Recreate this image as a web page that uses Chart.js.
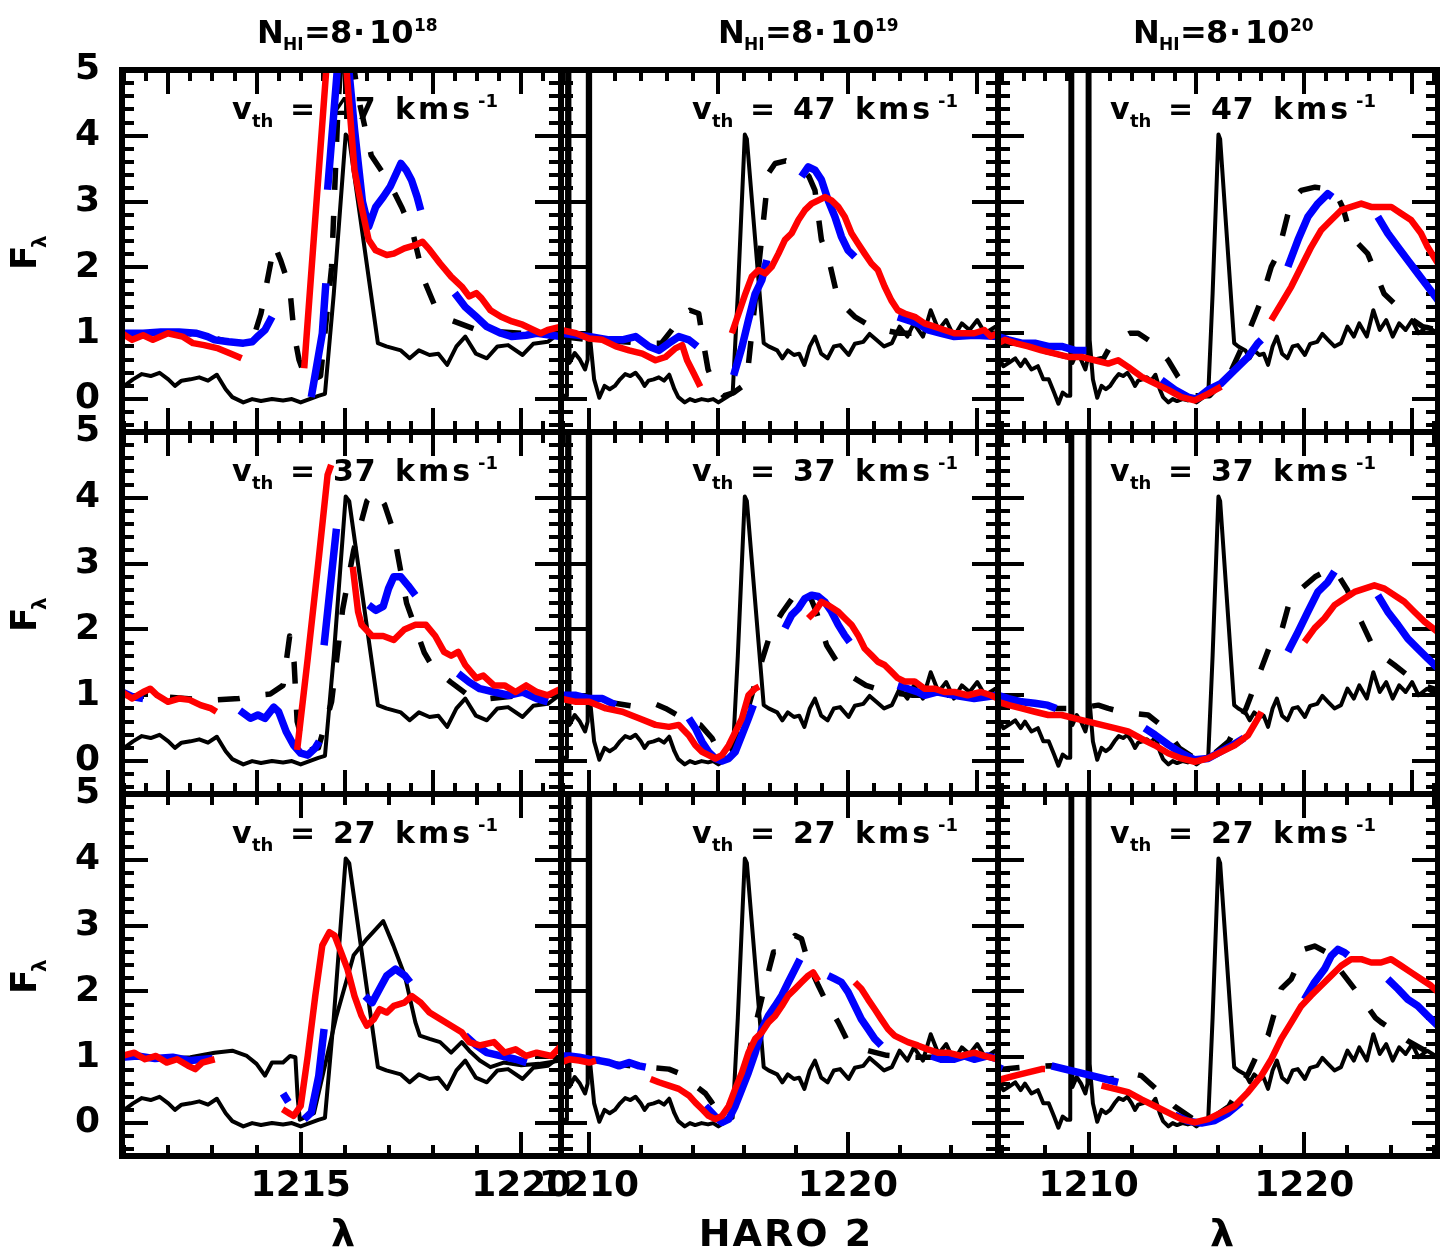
<!DOCTYPE html>
<html>
<head>
<meta charset="utf-8">
<title>HARO 2 Ly-alpha profiles</title>
<script src="https://cdn.jsdelivr.net/npm/chart.js@4.4.1/dist/chart.umd.min.js"></script>
<style>
  html, body { margin: 0; padding: 0; background: #fff; }
  #wrap { position: relative; width: 1440px; height: 1248px; overflow: hidden; background: #fff; }
  #wrap canvas { position: absolute; left: 0; top: 0; pointer-events: none; }
</style>
</head>
<body>
<div id="wrap"></div>
<script>
// ---------------- data ----------------
// column: HI column density exponent (N_HI = 8·10^x), row: thermal speed (km/s)
const columnExponent = ['18', '19', '20'];
const rowThermalSpeed = ['47', '37', '27'];
// wavelength window of each column (Å) and flux window
const columnWave = [[1210.95, 1220.9], [1208.92, 1225.8], [1205.8, 1226.2]];
const fluxRange = [-0.5, 5];
const fluxTickLabels = [0, 1, 2, 3, 4, 5];
const waveTickLabels = [[1215, 1220], [1210, 1220], [1210, 1220]];

// observed HARO 2 spectrum [λ, F]
const haro2 = [[1205.8,0.65],[1206.05,0.5],[1206.3,0.55],[1206.6,0.62],[1206.85,0.5],[1207.05,0.6],[1207.35,0.45],[1207.65,0.5],[1207.9,0.3],[1208.15,0.3],[1208.4,0.1],[1208.6,-0.07],[1208.8,0.1],[1209.0,0.05],[1209.15,0.05],[1209.2,40],[1209.25,0.55],[1209.45,0.7],[1209.65,0.6],[1209.85,0.45],[1209.95,0.6],[1210.0,40],[1210.05,0.9],[1210.2,0.3],[1210.4,0.02],[1210.6,0.2],[1210.8,0.15],[1211.0,0.2],[1211.2,0.3],[1211.4,0.38],[1211.6,0.35],[1211.8,0.4],[1212.0,0.3],[1212.15,0.2],[1212.3,0.28],[1212.5,0.3],[1212.7,0.33],[1212.9,0.28],[1213.1,0.37],[1213.3,0.15],[1213.45,0.03],[1213.7,-0.05],[1213.9,0.0],[1214.1,-0.03],[1214.35,0.0],[1214.6,-0.02],[1214.8,0.0],[1215.0,-0.05],[1215.2,0.0],[1215.4,0.05],[1215.55,0.08],[1215.75,1.6],[1216.02,4.02],[1216.1,3.95],[1216.75,0.85],[1216.94,0.8],[1217.27,0.74],[1217.47,0.62],[1217.68,0.74],[1217.92,0.67],[1218.12,0.69],[1218.32,0.52],[1218.53,0.8],[1218.73,0.95],[1218.97,0.69],[1219.22,0.62],[1219.46,0.8],[1219.7,0.82],[1220.03,0.67],[1220.27,0.84],[1220.6,0.87],[1220.84,0.99],[1221.1,0.9],[1221.4,0.8],[1221.7,0.85],[1222.0,1.1],[1222.3,0.95],[1222.55,1.15],[1222.9,0.95],[1223.2,1.35],[1223.5,1.05],[1223.8,1.2],[1224.1,0.95],[1224.4,1.15],[1224.7,1.05],[1225.0,1.2],[1225.3,1.0],[1225.7,1.1],[1226.2,1.0]];

// model profiles [λ, F]; null marks a break in the drawn curve
const r1c1Dashed = [[1210.95,1.0],[1211.43,1.0],[1212.24,1.02],[1212.89,0.95],[1213.37,0.87],[1213.7,0.85],[1213.9,0.87],[1214.1,1.3],[1214.4,2.35],[1214.55,2.1],[1214.75,1.7],[1214.85,1.0],[1214.96,0.6],[1215.15,0.25],[1215.45,0.35],[1215.7,2.0],[1215.85,4.5],[1216.0,6.0],[1216.3,4.6],[1216.6,3.7],[1217.0,3.3],[1217.3,2.9],[1217.55,2.5],[1217.8,1.8],[1218.05,1.4],[1218.4,1.2],[1219.0,1.05],[1220,1.0],[1220.9,1.0]];
const r1c1Blue = [[1210.95,1.0],[1211.43,1.0],[1211.83,1.02],[1212.24,1.02],[1212.64,1.0],[1212.89,0.95],[1213.05,0.9],[1213.37,0.87],[1213.7,0.85],[1213.9,0.87],[1214.02,0.95],[1214.19,1.05],[1214.35,1.25],null,[1215.24,0.03],[1215.49,1.0],[1215.57,1.76],null,[1215.61,3.18],[1215.95,6.0],[1216.22,4.1],[1216.4,3.0],[1216.54,2.62],[1216.7,2.92],[1216.87,3.07],[1217.03,3.23],[1217.27,3.58],[1217.39,3.48],[1217.51,3.33],[1217.64,3.07],[1217.72,2.87],null,[1218.49,1.61],[1218.73,1.4],[1218.98,1.25],[1219.22,1.1],[1219.54,1.0],[1219.79,0.95],[1220.11,0.97],[1220.35,1.0],[1220.9,0.95]];
const r1c1Red = [[1210.95,1.0],[1211.18,0.9],[1211.43,0.97],[1211.65,0.9],[1211.99,1.0],[1212.32,0.95],[1212.56,0.85],[1212.81,0.82],[1213.13,0.77],[1213.42,0.69],[1213.66,0.62],null,[1215.08,0.47],[1215.8,7.0],[1216.22,3.48],[1216.38,2.92],[1216.54,2.42],[1216.7,2.26],[1216.95,2.19],[1217.11,2.21],[1217.35,2.29],[1217.6,2.34],[1217.76,2.39],[1217.92,2.27],[1218.16,2.06],[1218.41,1.86],[1218.65,1.71],[1218.82,1.56],[1218.98,1.61],[1219.1,1.53],[1219.3,1.35],[1219.54,1.25],[1219.79,1.18],[1220.03,1.13],[1220.28,1.05],[1220.44,1.0],[1220.6,1.05],[1220.9,1.1]];

const r1c2Dashed = [[1208.92,0.95],[1210,0.9],[1211,0.88],[1212,0.85],[1212.8,0.85],[1213.3,1.1],[1213.6,1.28],[1213.9,1.35],[1214.24,1.3],[1214.4,0.9],[1214.6,0.45],[1214.8,0.25],[1215.2,0.05],[1215.6,0.1],[1215.95,0.2],[1216.1,0.3],[1216.5,1.8],[1216.93,3.43],[1217.19,3.58],[1217.6,3.62],[1218.1,3.55],[1218.5,3.38],[1218.73,3.17],[1218.98,2.42],[1219.24,2.16],[1219.63,1.5],[1220.27,1.25],[1221.0,1.08],[1222,1.0],[1225.8,1.0]];
const r1c2Blue = [[1208.92,1.0],[1210.0,0.95],[1210.78,0.9],[1211.29,0.9],[1211.8,0.95],[1212.32,0.8],[1212.7,0.74],[1213.09,0.85],[1213.47,0.95],[1213.86,0.9],[1214.18,0.8],null,[1215.59,0.36],[1215.91,0.79],[1216.16,1.2],[1216.42,1.6],[1216.68,1.81],[1216.87,2.11],null,[1218.21,3.38],[1218.47,3.53],[1218.73,3.48],[1218.98,3.33],[1219.24,3.02],[1219.5,2.77],[1219.75,2.47],[1220.01,2.26],[1220.27,2.16],null,[1221.93,1.25],[1222.32,1.2],[1222.7,1.15],[1223.09,1.05],[1223.6,1.0],[1224.11,0.95],[1224.9,0.97],[1225.8,0.95]];
const r1c2Red = [[1208.92,1.05],[1209.5,1.0],[1210.0,0.92],[1210.52,0.9],[1211.04,0.8],[1211.55,0.74],[1212.06,0.69],[1212.57,0.59],[1212.96,0.64],[1213.34,0.77],[1213.6,0.82],[1213.79,0.59],[1214.05,0.39],[1214.3,0.19],null,[1215.52,1.0],[1215.78,1.3],[1216.04,1.6],[1216.29,1.86],[1216.55,1.96],[1216.81,1.91],[1217.06,2.01],[1217.32,2.21],[1217.57,2.42],[1217.83,2.52],[1218.09,2.72],[1218.34,2.87],[1218.6,2.97],[1218.86,3.02],[1219.11,3.07],[1219.37,3.02],[1219.63,2.92],[1219.88,2.77],[1220.14,2.52],[1220.4,2.36],[1220.65,2.21],[1220.91,2.06],[1221.16,1.96],[1221.42,1.71],[1221.68,1.5],[1221.93,1.35],[1222.19,1.3],[1222.58,1.25],[1222.96,1.15],[1223.35,1.1],[1223.73,1.05],[1224.11,1.0],[1224.5,1.0],[1224.88,1.0],[1225.27,1.05],[1225.52,0.95],[1225.8,1.0]];

const r1c3Dashed = [[1205.8,0.85],[1206.59,0.85],[1207.2,0.8],[1207.82,0.74],[1208.44,0.69],[1209.06,0.64],[1209.67,0.64],[1210.29,0.59],[1210.7,0.62],[1211.0,0.8],[1211.37,0.9],[1211.9,1.0],[1212.3,1.0],[1213.0,0.85],[1213.69,0.59],[1214.15,0.34],[1214.9,0.05],[1215.6,0.05],[1216.5,0.35],[1217.2,0.85],[1217.7,1.25],[1218.0,1.5],[1218.47,2.01],[1218.78,2.21],[1219.4,3.02],[1219.86,3.17],[1220.5,3.22],[1220.94,3.2],[1221.4,3.17],[1221.8,2.9],[1222.17,2.47],[1222.94,2.21],[1223.7,1.6],[1224.18,1.45],[1224.8,1.25],[1225.5,1.1],[1226.2,1.05]];
const r1c3Blue = [[1205.8,0.95],[1206.28,0.9],[1206.9,0.85],[1207.51,0.85],[1208.13,0.8],[1208.75,0.8],[1209.36,0.74],[1209.9,0.74],null,[1213.38,0.29],[1214.0,0.14],[1214.61,0.03],[1215.0,0.0],[1215.54,0.14],[1216.15,0.24],[1216.77,0.44],[1217.39,0.64],[1217.85,0.85],[1218.01,0.9],null,[1219.24,2.01],[1219.71,2.42],[1220.17,2.77],[1220.63,2.97],[1221.09,3.12],[1221.3,3.07],null,[1223.41,2.77],[1223.87,2.52],[1224.34,2.31],[1224.8,2.11],[1225.26,1.91],[1225.72,1.71],[1226.2,1.5]];
const r1c3Red = [[1205.8,0.85],[1206.12,0.9],[1206.59,0.85],[1207.2,0.8],[1207.82,0.74],[1208.44,0.69],[1209.06,0.64],[1209.67,0.64],[1210.29,0.59],[1210.91,0.54],[1211.37,0.59],[1211.83,0.49],[1212.45,0.34],[1213.07,0.24],[1213.69,0.14],[1214.3,0.03],[1214.92,-0.02],[1215.54,0.08],[1216.15,0.19],null,[1218.47,1.2],[1218.93,1.45],[1219.4,1.71],[1219.86,2.01],[1220.32,2.31],[1220.79,2.57],[1221.25,2.72],[1221.71,2.87],[1222.17,2.92],[1222.64,2.97],[1223.1,2.92],[1223.56,2.92],[1224.03,2.92],[1224.49,2.82],[1224.95,2.72],[1225.41,2.52],[1225.72,2.31],[1226.2,2.06]];

const r2c1Dashed = [[1210.95,1.0],[1212,0.97],[1212.85,0.93],[1213.1,0.93],[1213.6,0.95],[1214.0,1.0],[1214.31,1.02],[1214.6,1.15],[1214.75,1.9],[1214.85,1.5],[1214.92,0.6],[1215.1,0.15],[1215.4,0.2],[1215.7,0.9],[1215.95,2.3],[1216.2,3.2],[1216.5,3.95],[1216.7,4.1],[1216.9,3.9],[1217.1,3.5],[1217.4,2.4],[1217.8,1.65],[1218.0,1.42],[1218.4,1.2],[1218.8,1.0],[1219.3,0.95],[1220,1.0],[1220.9,1.0]];
const r2c1Blue = [[1210.95,1.05],[1211.18,0.98],[1211.43,0.95],null,[1213.62,0.77],[1213.86,0.65],[1214.03,0.7],[1214.19,0.65],[1214.39,0.82],[1214.5,0.75],[1214.67,0.45],[1214.84,0.24],[1215.0,0.12],[1215.16,0.09],[1215.33,0.2],[1215.42,0.3],null,[1215.53,1.76],[1215.81,3.53],null,[1216.54,2.37],[1216.7,2.29],[1216.87,2.35],[1216.99,2.62],[1217.11,2.8],[1217.27,2.8],[1217.43,2.67],[1217.6,2.52],null,[1218.57,1.33],[1218.82,1.2],[1219.06,1.1],[1219.38,1.05],[1219.71,1.0],[1220.03,1.05],[1220.35,0.95],[1220.6,0.9]];
const r2c1Red = [[1210.95,1.05],[1211.18,0.95],[1211.43,1.05],[1211.59,1.1],[1211.75,1.0],[1211.99,0.9],[1212.24,0.95],[1212.48,0.93],[1212.73,0.85],[1212.97,0.8],[1213.09,0.75],null,[1214.92,0.17],[1215.16,1.56],[1215.41,3.08],[1215.61,4.35],[1215.69,4.5],null,[1216.18,2.95],[1216.3,2.27],[1216.38,2.07],[1216.62,1.9],[1216.87,1.9],[1217.11,1.84],[1217.35,2.0],[1217.6,2.07],[1217.84,2.07],[1218.05,1.9],[1218.25,1.66],[1218.41,1.6],[1218.57,1.66],[1218.73,1.46],[1218.98,1.26],[1219.14,1.3],[1219.38,1.15],[1219.62,1.15],[1219.87,1.05],[1220.11,1.15],[1220.35,1.05],[1220.6,1.0],[1220.9,1.1]];

const r2c2Dashed = [[1208.92,0.95],[1210,0.92],[1211,0.88],[1211.8,0.83],[1212.19,0.85],[1212.6,0.86],[1212.96,0.8],[1213.5,0.68],[1214.0,0.58],[1214.3,0.55],[1214.75,0.35],[1215.1,0.08],[1215.5,0.15],[1216.0,0.6],[1216.5,1.3],[1217.06,2.0],[1217.45,2.25],[1217.9,2.5],[1218.21,2.62],[1218.47,2.57],[1218.8,2.25],[1219.18,1.76],[1219.5,1.56],[1220.0,1.32],[1220.7,1.15],[1221.5,1.05],[1222.5,1.0],[1225.8,1.0]];
const r2c2Blue = [[1208.92,1.0],[1209.5,1.0],[1210.01,0.95],[1210.52,0.95],[1211.04,0.85],null,[1213.86,0.65],[1214.11,0.5],[1214.37,0.29],[1214.62,0.14],[1214.88,0.04],[1215.14,0.0],[1215.4,0.04],[1215.65,0.14],[1215.91,0.4],[1216.16,0.65],[1216.35,0.85],null,[1217.57,2.02],[1217.83,2.22],[1218.09,2.32],[1218.34,2.47],[1218.6,2.52],[1218.86,2.5],[1219.11,2.42],[1219.37,2.27],[1219.63,2.07],[1219.88,1.91],[1220.07,1.81],null,[1221.93,1.15],[1222.32,1.1],[1222.7,1.05],[1222.96,1.0],[1223.47,1.05],[1224.11,1.0],[1224.88,0.95],[1225.8,1.0]];
const r2c2Red = [[1208.92,0.95],[1209.5,0.9],[1210.01,0.9],[1210.65,0.8],[1211.29,0.75],[1211.93,0.65],[1212.57,0.55],[1213.09,0.52],[1213.47,0.55],[1213.86,0.39],[1214.11,0.24],[1214.37,0.14],[1214.62,0.09],[1214.88,0.04],[1215.14,0.09],[1215.4,0.24],[1215.65,0.44],[1215.91,0.65],[1216.16,1.0],[1216.42,1.1],[1216.57,1.13],null,[1218.47,2.17],[1218.73,2.27],[1218.98,2.42],[1219.24,2.37],[1219.63,2.27],[1219.88,2.17],[1220.14,2.07],[1220.4,1.91],[1220.65,1.71],[1220.91,1.61],[1221.16,1.51],[1221.42,1.46],[1221.68,1.36],[1221.93,1.26],[1222.19,1.21],[1222.58,1.21],[1222.96,1.1],[1223.35,1.1],[1223.73,1.05],[1224.11,1.05],[1224.63,1.0],[1225.14,1.05],[1225.52,1.0],[1225.8,0.95]];

const r2c3Dashed = [[1205.8,1.0],[1206.28,0.95],[1206.9,0.9],[1207.5,0.88],[1208.1,0.85],[1208.5,0.8],[1209.5,0.8],[1210.45,0.85],[1210.91,0.8],[1211.5,0.75],[1212.2,0.72],[1212.76,0.7],[1213.53,0.5],[1214.2,0.2],[1214.9,0.05],[1215.6,0.05],[1216.5,0.3],[1217.3,0.8],[1218.0,1.4],[1218.47,1.81],[1218.93,1.96],[1219.4,2.52],[1219.86,2.62],[1220.5,2.8],[1221.25,2.93],[1221.56,2.83],[1222.0,2.6],[1222.33,2.32],[1222.64,2.12],[1223.1,1.8],[1223.56,1.61],[1224.18,1.46],[1224.8,1.3],[1225.5,1.15],[1226.2,1.08]];
const r2c3Blue = [[1205.8,1.0],[1206.28,0.95],[1206.9,0.9],[1207.5,0.88],[1208.1,0.85],[1208.5,0.8],null,[1212.6,0.5],[1213.07,0.4],[1213.69,0.25],[1214.3,0.12],[1214.92,0.02],[1215.54,0.04],[1216.15,0.15],[1216.77,0.26],[1217.2,0.35],null,[1219.24,1.66],[1219.71,1.96],[1220.17,2.27],[1220.63,2.57],[1221.09,2.72],[1221.4,2.88],null,[1223.41,2.52],[1223.87,2.27],[1224.34,2.07],[1224.8,1.86],[1225.26,1.71],[1225.72,1.56],[1226.2,1.41]];
const r2c3Red = [[1205.8,0.9],[1206.3,0.85],[1206.9,0.8],[1207.51,0.75],[1208.13,0.7],[1208.75,0.7],[1209.36,0.65],[1209.98,0.6],[1210.6,0.55],[1211.22,0.5],[1211.83,0.45],[1212.45,0.34],[1213.07,0.24],[1213.69,0.12],[1214.3,0.04],[1214.92,-0.01],[1215.54,0.04],[1216.15,0.14],[1216.77,0.24],[1217.39,0.39],[1217.85,0.65],[1218.01,0.75],null,[1220.01,1.81],[1220.48,2.02],[1220.94,2.17],[1221.4,2.37],[1221.86,2.47],[1222.33,2.57],[1222.79,2.62],[1223.25,2.67],[1223.72,2.62],[1224.18,2.52],[1224.64,2.42],[1225.1,2.27],[1225.57,2.12],[1226.2,1.96]];

const r3c1Dashed = [[1210.95,1.0],[1211.5,1.02],[1212,0.98],[1212.5,1.0],[1213.05,1.07],[1213.45,1.1],[1213.78,1.02],[1214.0,0.9],[1214.19,0.72],[1214.35,0.92],[1214.6,0.92],[1214.76,1.02],[1214.88,1.0],[1214.93,0.4],[1214.98,0.05],[1215.3,0.15],[1215.8,1.6],[1216.2,2.55],[1216.5,2.8],[1216.87,3.07],[1217.1,2.7],[1217.36,2.24],[1217.6,1.53],[1217.7,1.33],[1217.92,1.28],[1218.16,1.23],[1218.41,1.07],[1218.65,1.23],[1218.82,1.1],[1219.06,0.95],[1219.3,0.85],[1219.6,0.92],[1220.0,0.88],[1220.4,0.9],[1220.9,0.95]];
const r3c1Blue = [[1210.95,1.0],[1211.3,1.02],[1211.7,0.98],[1212.1,1.0],[1212.5,0.95],[1213.0,0.98],null,[1214.6,0.45],[1214.72,0.32],null,[1215.08,0.06],[1215.24,0.16],[1215.41,0.72],[1215.53,1.43],null,[1216.46,1.93],[1216.62,1.83],[1216.79,2.04],[1216.95,2.24],[1217.15,2.34],[1217.36,2.24],[1217.48,2.14],null,[1218.73,1.33],[1218.98,1.18],[1219.22,1.07],[1219.54,1.02],[1219.87,0.97],[1220.12,0.92]];
const r3c1Red = [[1210.95,1.02],[1211.23,1.07],[1211.47,0.97],[1211.72,1.02],[1211.96,0.92],[1212.2,0.97],[1212.45,0.87],[1212.61,0.82],[1212.77,0.92],[1213.05,0.97],null,[1214.59,0.21],[1214.76,0.14],[1214.84,0.11],[1215.0,0.26],[1215.16,1.02],[1215.33,1.93],[1215.49,2.7],[1215.65,2.9],[1215.77,2.85],[1215.89,2.64],[1216.06,2.34],[1216.22,1.93],[1216.38,1.63],[1216.5,1.48],[1216.66,1.58],[1216.79,1.73],[1216.95,1.68],[1217.11,1.78],[1217.35,1.83],[1217.52,1.93],[1217.72,1.83],[1217.92,1.68],[1218.16,1.58],[1218.41,1.48],[1218.65,1.38],[1218.82,1.23],[1219.06,1.18],[1219.38,1.23],[1219.62,1.07],[1219.87,1.12],[1220.11,1.02],[1220.35,1.07],[1220.68,1.02],[1220.9,1.17]];

const r3c2Dashed = [[1208.92,1.0],[1210,0.95],[1211,0.9],[1212,0.85],[1212.5,0.84],[1213.09,0.82],[1213.6,0.74],[1214.0,0.6],[1214.5,0.45],[1214.75,0.31],[1215.1,0.1],[1215.6,0.3],[1216.2,1.1],[1216.8,2.1],[1217.13,2.6],[1217.45,2.6],[1217.96,2.85],[1218.21,2.8],[1218.5,2.4],[1218.86,2.09],[1219.18,1.83],[1219.63,1.53],[1220.01,1.23],[1220.6,1.12],[1221.5,1.03],[1222.5,1.0],[1225.8,1.0]];
const r3c2Blue = [[1208.92,1.02],[1209.24,1.02],[1209.62,1.0],[1210.01,0.97],[1210.4,0.95],[1210.78,0.92],[1211.16,0.87],[1211.55,0.92],[1211.93,0.87],[1212.19,0.85],null,[1214.5,0.26],[1214.88,0.1],[1215.14,0.01],[1215.4,0.06],[1215.65,0.26],[1215.91,0.52],[1216.16,0.77],[1216.42,1.07],[1216.68,1.43],[1216.93,1.63],[1217.19,1.78],[1217.45,1.94],[1217.7,2.14],[1217.96,2.34],[1218.15,2.49],null,[1219.24,2.24],[1219.5,2.19],[1219.75,2.14],[1220.01,1.99],[1220.27,1.78],[1220.52,1.58],[1220.78,1.43],[1221.04,1.28],[1221.29,1.18],null,[1223.22,1.02],[1223.6,0.97],[1224.11,0.97],[1224.5,1.02],[1224.88,0.97],[1225.4,1.02],[1225.8,0.97]];
const r3c2Red = [[1208.92,0.92],[1209.24,0.97],[1209.62,0.95],[1210.01,0.92],[1210.27,0.95],null,[1212.38,0.67],[1212.7,0.62],[1213.09,0.57],[1213.47,0.52],[1213.86,0.42],[1214.11,0.31],[1214.37,0.21],[1214.62,0.11],[1214.88,0.06],[1215.14,0.11],[1215.4,0.26],[1215.65,0.52],[1215.91,0.77],[1216.16,1.07],[1216.42,1.28],[1216.68,1.38],[1216.93,1.53],[1217.19,1.63],[1217.45,1.78],[1217.7,1.94],[1217.96,2.04],[1218.21,2.14],[1218.47,2.24],[1218.66,2.29],[1218.86,2.16],null,[1220.27,2.14],[1220.52,2.04],[1220.78,1.88],[1221.04,1.73],[1221.29,1.58],[1221.55,1.43],[1221.8,1.33],[1222.06,1.28],[1222.32,1.23],[1222.7,1.18],[1223.09,1.12],[1223.47,1.07],[1223.86,1.07],[1224.37,1.02],[1224.88,1.07],[1225.27,1.02],[1225.8,0.97]];

const r3c3Dashed = [[1205.8,0.85],[1206.0,0.82],[1207.0,0.85],[1208.28,0.87],[1208.9,0.82],[1209.52,0.77],[1210.14,0.72],[1210.76,0.67],[1211.37,0.68],[1211.83,0.77],[1212.45,0.72],[1213.2,0.5],[1214.0,0.25],[1214.9,0.05],[1215.6,0.05],[1216.5,0.25],[1217.4,0.75],[1218.01,1.18],[1218.32,1.33],[1218.93,2.04],[1219.4,2.19],[1220.01,2.64],[1220.48,2.69],[1221.0,2.6],[1221.6,2.35],[1222.33,2.04],[1222.79,1.83],[1223.3,1.6],[1223.56,1.53],[1224.03,1.43],[1224.8,1.25],[1225.5,1.12],[1226.2,1.08]];
const r3c3Blue = [[1205.8,0.85],[1206.0,0.82],null,[1208.28,0.87],[1208.9,0.82],[1209.52,0.77],[1210.14,0.72],[1210.76,0.67],[1211.37,0.62],null,[1214.0,0.12],[1214.61,0.03],[1215.23,0.0],[1215.85,0.04],[1216.46,0.15],[1217.08,0.32],null,[1220.01,1.88],[1220.48,2.14],[1220.94,2.34],[1221.25,2.54],[1221.56,2.64],[1221.87,2.59],[1222.02,2.55],null,[1223.87,2.19],[1224.34,2.04],[1224.8,1.88],[1225.26,1.78],[1225.72,1.63],[1226.2,1.48]];
const r3c3Red = [[1205.8,0.65],[1206.0,0.67],[1206.59,0.72],[1207.2,0.77],[1207.82,0.82],[1207.98,0.82],null,[1210.6,0.57],[1211.22,0.52],[1211.83,0.47],[1212.45,0.36],[1213.07,0.26],[1213.69,0.16],[1214.3,0.06],[1214.92,0.01],[1215.54,0.06],[1216.15,0.16],[1216.77,0.26],[1217.39,0.47],[1218.01,0.72],[1218.47,0.97],[1218.93,1.28],[1219.4,1.53],[1219.86,1.78],[1220.32,1.94],[1220.79,2.09],[1221.25,2.24],[1221.71,2.39],[1222.17,2.49],[1222.64,2.49],[1223.1,2.44],[1223.56,2.44],[1224.03,2.49],[1224.49,2.39],[1224.95,2.29],[1225.41,2.19],[1225.87,2.09],[1226.2,1.99]];

// grid of panels built from the named series (row-major)
const panelSeries = [
  [[r1c1Dashed, r1c1Blue, r1c1Red], [r1c2Dashed, r1c2Blue, r1c2Red], [r1c3Dashed, r1c3Blue, r1c3Red]],
  [[r2c1Dashed, r2c1Blue, r2c1Red], [r2c2Dashed, r2c2Blue, r2c2Red], [r2c3Dashed, r2c3Blue, r2c3Red]],
  [[r3c1Dashed, r3c1Blue, r3c1Red], [r3c2Dashed, r3c2Blue, r3c2Red], [r3c3Dashed, r3c3Blue, r3c3Red]]
];

// ---------------- layout / style ----------------
const W = 1440, H = 1248;
const colEdges = [[122, 561], [561, 998], [998, 1438]];
const rowEdges = [[70, 432], [432, 794], [794, 1156]];
const Y_AXIS_W = 110, X_AXIS_H = 80;
const FONT = '"DejaVu Sans", "Liberation Sans", sans-serif';

function toPoints(arr) {
  const out = [];
  let lastX = null;
  for (const p of arr) {
    if (p === null) out.push({ x: lastX, y: null });
    else { out.push({ x: p[0], y: p[1] }); lastX = p[0]; }
  }
  return out;
}

function put(ctx, s, x, y, size, opt) {
  opt = opt || {};
  ctx.font = 'bold ' + size + 'px ' + FONT;
  ctx.letterSpacing = (opt.ls || 0) + 'px';
  ctx.textAlign = opt.align || 'left';
  ctx.textBaseline = 'alphabetic';
  ctx.fillStyle = '#000';
  ctx.fillText(s, x, y);
}

function seg(ctx, x1, y1, x2, y2) {
  ctx.beginPath(); ctx.moveTo(x1, y1); ctx.lineTo(x2, y2); ctx.stroke();
}

// frame, inward ticks and panel annotations
function panelDecor(row, col) {
  const xSteps = row < 2 ? [[2, 0.5], [5, 1], [5, 1]][col] : [[5, 1], [10, 2], [10, 2]][col];
  return {
    id: 'panelDecor' + row + col,
    beforeDatasetsDraw(chart) {
      const ctx = chart.ctx, a = chart.chartArea;
      const xs = chart.scales.x, ys = chart.scales.y;
      ctx.save();
      ctx.strokeStyle = '#000';
      ctx.lineWidth = 4;
      ctx.lineCap = 'butt';
      // flux ticks on both sides, every 0.2 with majors at integers
      for (let k = Math.ceil(fluxRange[0] / 0.2); k <= Math.floor(fluxRange[1] / 0.2); k++) {
        const v = k * 0.2;
        if (v <= fluxRange[0] + 1e-6 || v >= fluxRange[1] - 1e-6) continue;
        const major = Math.abs(v - Math.round(v)) < 1e-6;
        const L = major ? 26 : 12;
        const py = Math.round(ys.getPixelForValue(v));
        seg(ctx, a.left, py, a.left + L, py);
        seg(ctx, a.right, py, a.right - L, py);
      }
      // wavelength ticks on top and bottom
      const [maj, mnr] = xSteps;
      const [w0, w1] = columnWave[col];
      for (let k = Math.ceil(w0 / mnr); k <= Math.floor(w1 / mnr); k++) {
        const v = k * mnr;
        const major = Math.abs(v / maj - Math.round(v / maj)) < 1e-6;
        const L = major ? 24 : 11;
        const px = Math.round(xs.getPixelForValue(v));
        seg(ctx, px, a.bottom, px, a.bottom - L);
        seg(ctx, px, a.top, px, a.top + L);
      }
      // thermal speed label
      const vx = a.left + [110, 131, 112][col];
      const vy = a.top + 49;
      put(ctx, 'v', vx, vy, 30);
      put(ctx, 'th', vx + 20, vy + 8, 18);
      put(ctx, '=', vx + 58, vy, 30);
      put(ctx, rowThermalSpeed[row], vx + 101, vy, 30, { ls: 1 });
      put(ctx, 'kms', vx + 163, vy, 30, { ls: 3 });
      put(ctx, '-1', vx + 246, vy - 12, 18);
      // column density heading
      if (row === 0) {
        const tx = a.left + [135, 157, 135][col];
        const ty = 43;
        put(ctx, 'N', tx, ty, 32);
        put(ctx, 'HI', tx + 26, ty + 7, 17);
        put(ctx, '=', tx + 47, ty, 32);
        put(ctx, '8', tx + 73, ty, 32);
        put(ctx, '·', tx + 96, ty, 32);
        put(ctx, '10', tx + 112, ty, 32);
        put(ctx, columnExponent[col], tx + 157, ty - 12, 17);
      }
      // flux axis title
      if (col === 0) {
        const cy = (a.top + a.bottom) / 2 + 19;
        ctx.save();
        ctx.translate(36, cy);
        ctx.rotate(-Math.PI / 2);
        put(ctx, 'F', 0, 0, 36);
        put(ctx, 'λ', 22, 10, 20);
        ctx.restore();
      }
      // wavelength axis titles
      if (row === 2) {
        const cx = [343, 786, 1222][col];
        put(ctx, col === 1 ? 'HARO 2' : 'λ', cx, 1246, 38, { align: 'center', ls: col === 1 ? 2 : 0 });
      }
      ctx.restore();
    },
    afterDatasetsDraw(chart) {
      const ctx = chart.ctx, a = chart.chartArea;
      ctx.save();
      ctx.strokeStyle = '#000';
      ctx.lineWidth = 6;
      ctx.strokeRect(a.left, a.top, a.right - a.left, a.bottom - a.top);
      ctx.restore();
    }
  };
}

const wrap = document.getElementById('wrap');

for (let r = 0; r < 3; r++) {
  for (let c = 0; c < 3; c++) {
    const [dashed, blue, red] = panelSeries[r][c];
    const canvas = document.createElement('canvas');
    canvas.width = W; canvas.height = H;
    canvas.style.width = W + 'px'; canvas.style.height = H + 'px';
    wrap.appendChild(canvas);

    const common = { pointRadius: 0, tension: 0, fill: false, spanGaps: false, borderJoinStyle: 'round', borderCapStyle: 'butt' };
    const solidModel = (r === 2 && c === 0);
    const showY = c === 0, showX = r === 2;

    new Chart(canvas.getContext('2d'), {
      type: 'line',
      data: {
        datasets: [
          Object.assign({ label: 'model red', data: toPoints(red), borderColor: '#ff0000', borderWidth: 6.5 }, common),
          Object.assign({ label: 'model blue', data: toPoints(blue), borderColor: '#0000ff', borderWidth: 7.5 }, common),
          Object.assign({ label: 'model black', data: toPoints(dashed), borderColor: '#000000',
            borderWidth: solidModel ? 4 : 5.5, borderDash: solidModel ? [] : [22, 26] }, common),
          Object.assign({ label: 'HARO 2', data: toPoints(haro2), borderColor: '#000000', borderWidth: 4 }, common)
        ]
      },
      options: {
        responsive: false,
        animation: false,
        devicePixelRatio: 1,
        events: [],
        layout: {
          padding: {
            left: colEdges[c][0] - (showY ? Y_AXIS_W : 0),
            right: W - colEdges[c][1],
            top: rowEdges[r][0],
            bottom: H - rowEdges[r][1] - (showX ? X_AXIS_H : 0)
          }
        },
        plugins: { legend: { display: false }, tooltip: { enabled: false } },
        scales: {
          x: {
            type: 'linear',
            min: columnWave[c][0], max: columnWave[c][1],
            display: showX,
            position: 'bottom',
            grid: { display: false, drawTicks: false },
            border: { display: false },
            afterBuildTicks: s => { s.ticks = waveTickLabels[c].map(v => ({ value: v })); },
            afterFit: s => { s.height = showX ? X_AXIS_H : 0; },
            ticks: {
              padding: 9, maxRotation: 0, autoSkip: false, color: '#000',
              font: { family: FONT, weight: 'bold', size: 36 },
              callback: v => String(v)
            }
          },
          y: {
            type: 'linear',
            min: fluxRange[0], max: fluxRange[1],
            display: showY,
            position: 'left',
            grid: { display: false, drawTicks: false },
            border: { display: false },
            afterBuildTicks: s => { s.ticks = fluxTickLabels.map(v => ({ value: v })); },
            afterFit: s => { s.width = showY ? Y_AXIS_W : 0; },
            ticks: {
              padding: 22, color: '#000',
              font: { family: FONT, weight: 'bold', size: 36 },
              callback: v => String(v)
            }
          }
        }
      },
      plugins: [panelDecor(r, c)]
    });
  }
}
</script>
</body>
</html>
